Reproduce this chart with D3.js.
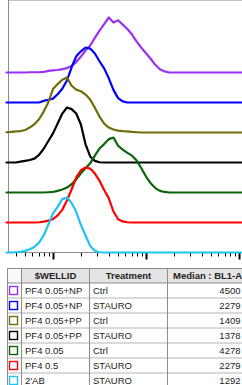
<!DOCTYPE html>
<meta charset="utf-8">
<style>
body { margin: 0; background: #fff; }
.frame line { stroke: #8c8c8c; stroke-width: 1px; }
.curves path { fill: none; stroke-width: 2.2px; stroke-linejoin: round; }
.grid text { font-family: "Liberation Sans", Arial, sans-serif; fill: #222; }
</style>
<svg width="242" height="385"></svg>
<script src="https://d3js.org/d3.v7.min.js"></script>
<script>
// bins (log10 of BL1-A) and histogram heights in % of mode
var binLog = [2.5, 2.55, 2.6, 2.65, 2.7, 2.75, 2.8, 2.85, 2.9, 2.95,
  3.0, 3.05, 3.1, 3.15, 3.2, 3.25, 3.3, 3.35, 3.4, 3.45,
  3.5, 3.55, 3.6, 3.65, 3.7, 3.75, 3.8, 3.85, 3.9, 3.95,
  4.0, 4.05, 4.1, 4.15, 4.2, 4.25, 4.3, 4.35, 4.4, 4.45, 4.5];

var pf4NpCtrl = [0, 0, 0, 0, 0, 0.5, 0.5, 0.5, 1, 3,
  4, 4.5, 6, 8, 12, 19, 29, 40, 49, 63,
  76, 88, 100, 91, 95, 87, 79, 69, 56, 45,
  35, 25, 14, 6, 2, 0, 0, 0, 0, 0, 0];
var pf4NpStauro = [0, 0, 0, 0, 0, 0, 0, 0, 3, 5,
  7, 15, 25, 40, 64, 84, 93, 100, 98, 89,
  75, 62, 44, 23, 8, 2, 0, 0, 0, 0,
  0, 0, 0, 0, 0, 0, 0, 0, 0, 0, 0];
var pf4PpCtrl = [0.5, 1, 2, 2.5, 4.5, 9, 15, 24, 38, 55,
  79, 88, 96, 100, 85, 78, 75, 69, 60, 45,
  29, 16, 9, 5.5, 3.5, 2.5, 2, 1, 0.5, 0,
  0, 0, 0, 0, 0, 0, 0, 0, 0, 0, 0];
var pf4PpStauro = [0, 0, 0, 1.5, 3, 4.5, 7, 14, 25, 39,
  53, 71, 89, 100, 97, 89, 69, 33, 11, 3,
  0.5, 0, 0, 0, 0, 0, 0, 0, 0, 0,
  0, 0, 0, 0, 0, 0, 0, 0, 0, 0, 0];
var pf4Ctrl = [0, 0, 0, 0, 0, 0, 0, 0, 0, 0.5,
  1, 3, 5.5, 9, 15, 24, 35, 44, 53, 67,
  80, 88, 97, 100, 85, 78, 72, 67, 58, 44,
  29, 17, 8, 3, 1, 0, 0, 0, 0, 0, 0];
var pf405Stauro = [0, 0, 0, 0, 0, 0, 0, 0.5, 1.5, 3.5,
  6, 13, 23, 40, 60, 82, 95, 100, 98, 89,
  76, 59, 44, 20, 6, 2, 0.5, 0, 0, 0,
  0, 0, 0, 0, 0, 0, 0, 0, 0, 0, 0];
var ab2Stauro = [0, 0, 0.5, 1, 3, 6, 10, 18, 31, 51,
  71, 83, 97, 100, 90, 74, 50, 31, 12, 3,
  0.5, 0, 0, 0, 0, 0, 0, 0, 0, 0,
  0, 0, 0, 0, 0, 0, 0, 0, 0, 0, 0];

var wellIds = ["PF4 0.05+NP", "PF4 0.05+NP", "PF4 0.05+PP", "PF4 0.05+PP", "PF4 0.05", "PF4 0.5", "2'AB"];
var treatments = ["Ctrl", "STAURO", "Ctrl", "STAURO", "Ctrl", "STAURO", "STAURO"];
var medians = [4500, 2279, 1409, 1378, 4278, 2279, 1292];
var colors = ["#9b30f5", "#0000ff", "#6e6e0c", "#000000", "#0a640a", "#ff0000", "#22c3f0"];
var headers = ["", "$WELLID", "Treatment", "Median : BL1-A"];

var seriesList = [pf4NpCtrl, pf4NpStauro, pf4PpCtrl, pf4PpStauro, pf4Ctrl, pf405Stauro, ab2Stauro];

var svg = d3.select("svg"),
    left = 8, right = 262, top = 13.5, bottom = 252.5;

var x = d3.scaleLog().domain([1e3, 1e5]).range([53, 239]);
var offset = d3.scalePoint().domain(d3.range(seriesList.length)).range([72.5, 252.5]);
var h = d3.scaleLinear().domain([0, 100]).range([0, 55]);

// frame
var frame = svg.append("g").attr("class", "frame");
frame.append("line").attr("x1", left).attr("x2", right).attr("y1", top).attr("y2", top);
frame.append("line").attr("x1", left + 0.5).attr("x2", left + 0.5).attr("y1", top).attr("y2", bottom);
frame.append("line").attr("x1", left).attr("x2", right).attr("y1", bottom).attr("y2", bottom);

// log ticks under the axis
var tickScale = d3.scaleLog().domain([x.invert(left + 2), x.invert(242)]);
svg.append("g")
  .selectAll("line")
  .data(tickScale.ticks())
  .enter().append("line")
    .attr("x1", function(d) { return Math.round(x(d)) + 0.5; })
    .attr("x2", function(d) { return Math.round(x(d)) + 0.5; })
    .attr("y1", bottom + 0.5)
    .attr("y2", function(d) { return Math.abs(Math.log10(d) % 1) < 1e-6 ? bottom + 7 : bottom + 4; })
    .attr("stroke", "#000")
    .attr("stroke-width", function(d) { return Math.abs(Math.log10(d) % 1) < 1e-6 ? 2 : 1; });

// histograms, offset like the original overlay
var line = d3.line()
    .x(function(d) { return x(d[0]); })
    .y(function(d) { return d[1]; });

svg.append("g")
  .attr("class", "curves")
  .selectAll("path")
  .data(seriesList)
  .enter().append("path")
    .attr("stroke", function(d, i) { return colors[i]; })
    .attr("d", function(d, i) {
      var base = offset(i);
      var pts = [[x.invert(left - 1), base]];
      d.forEach(function(v, j) { pts.push([Math.pow(10, binLog[j]), base - h(v)]); });
      pts.push([x.invert(right), base]);
      return line(pts);
    });

// table
var colX = [7.5, 21.5, 89.5, 167.5, 320],
    tTop = 268.5, headH = 14.5, rowH = 15;

var grid = svg.append("g").attr("class", "grid");
grid.selectAll("rect.head")
  .data(headers)
  .enter().append("rect")
    .attr("class", "head")
    .attr("x", function(d, i) { return colX[i]; })
    .attr("y", tTop)
    .attr("width", function(d, i) { return colX[i + 1] - colX[i]; })
    .attr("height", headH)
    .attr("fill", function(d, i) { return i == 0 ? "#fafafa" : "#e4e4e4"; });

var rowY = d3.range(wellIds.length + 1).map(function(i) { return tTop + headH + i * rowH; });
grid.selectAll("line.h")
  .data([tTop].concat(rowY))
  .enter().append("line")
    .attr("x1", colX[0]).attr("x2", 260)
    .attr("y1", function(d) { return d; }).attr("y2", function(d) { return d; })
    .attr("stroke", function(d, i) { return i < 2 ? "#8c8c8c" : "#b4b4b4"; });
grid.selectAll("line.v")
  .data(colX.slice(0, 4))
  .enter().append("line")
    .attr("x1", function(d) { return d; }).attr("x2", function(d) { return d; })
    .attr("y1", tTop).attr("y2", 400)
    .attr("stroke", "#8c8c8c");

grid.append("text").attr("x", 55.5).attr("y", tTop + 10.5)
  .attr("text-anchor", "middle").attr("font-size", "9.5px").attr("font-weight", "bold").attr("fill", "#333")
  .text(headers[1]);
grid.append("text").attr("x", 128.5).attr("y", tTop + 10.5)
  .attr("text-anchor", "middle").attr("font-size", "9.5px").attr("font-weight", "bold").attr("fill", "#333")
  .text(headers[2]);
grid.append("text").attr("x", 173).attr("y", tTop + 10.5)
  .attr("font-size", "9.5px").attr("font-weight", "bold").attr("fill", "#333")
  .text(headers[3]);

var rows = grid.selectAll("g.row")
  .data(wellIds)
  .enter().append("g")
    .attr("transform", function(d, i) { return "translate(0," + rowY[i] + ")"; });
rows.append("rect")
  .attr("x", 9.5).attr("y", 3.5).attr("width", 8).attr("height", 8)
  .attr("fill", "#fff")
  .attr("stroke", function(d, i) { return colors[i]; })
  .attr("stroke-width", 1.4);
rows.append("text")
  .attr("x", 25).attr("y", 11)
  .attr("font-size", "9.5px")
  .text(function(d) { return d; });
rows.append("text")
  .attr("x", 93).attr("y", 11)
  .attr("font-size", "9.5px")
  .text(function(d, i) { return treatments[i]; });
rows.append("text")
  .attr("x", 240.5).attr("y", 11)
  .attr("text-anchor", "end")
  .attr("font-size", "9.5px")
  .text(function(d, i) { return medians[i]; });
</script>
